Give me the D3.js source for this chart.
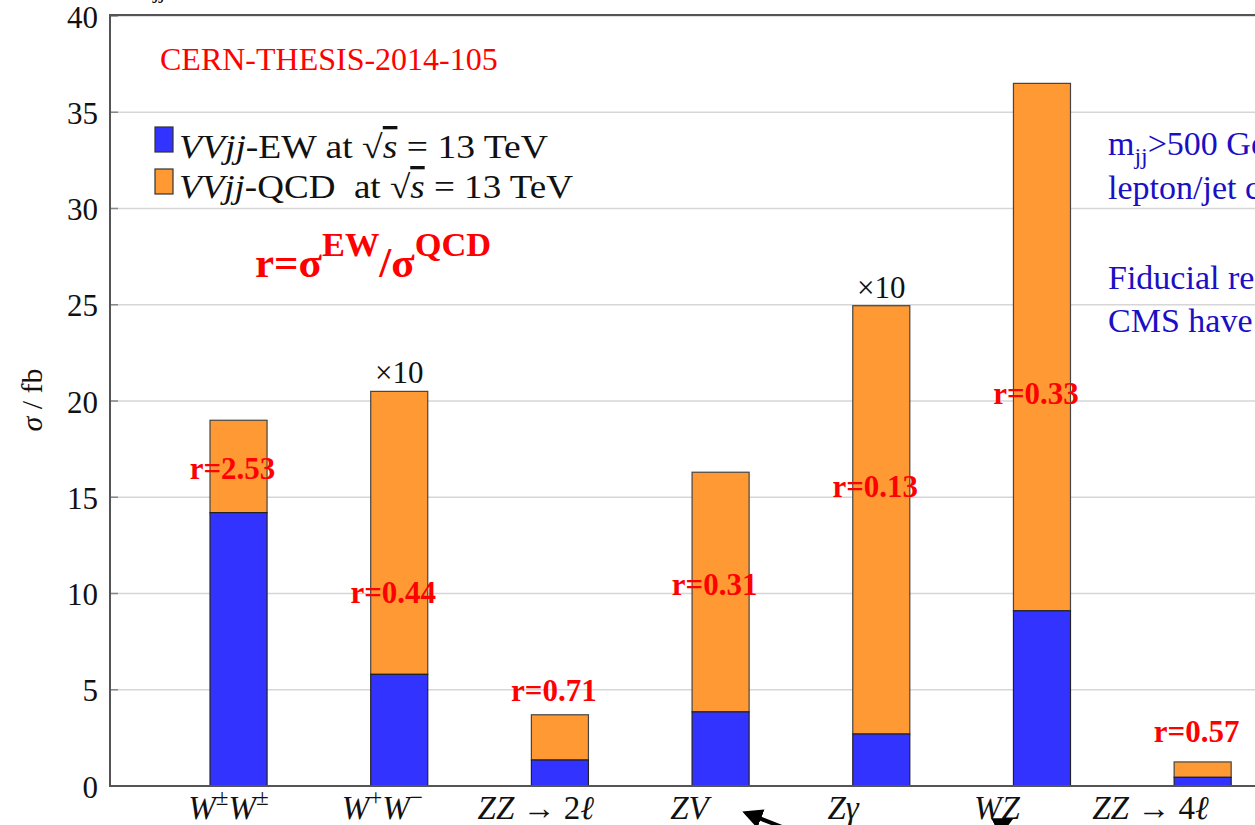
<!DOCTYPE html>
<html>
<head>
<meta charset="utf-8">
<script src="https://cdn.jsdelivr.net/npm/d3@7"></script>
<style>
  html, body { margin: 0; padding: 0; background: #fff; overflow: hidden; }
  svg { display: block; }
  text { white-space: pre; }
</style>
</head>
<body>
<svg id="chart" width="1255" height="825"></svg>
<script>
// ---------------- data ----------------
const categories = ["WpmWpm", "WpWm", "ZZ2l", "ZV", "Zgamma", "WZ", "ZZ4l"];
const ewValues   = [14.2, 5.8, 1.35, 3.85, 2.7, 9.1, 0.45];
const qcdValues  = [4.8, 14.7, 2.35, 12.45, 22.25, 27.4, 0.8];
const ratioLabels = ["r=2.53", "r=0.44", "r=0.71", "r=0.31", "r=0.13", "r=0.33", "r=0.57"];
const ratioLabelY = [16.5, 10.1, 5.0, 10.5, 15.6, 20.4, 2.85];
const scaleNotes  = ["", "×10", "", "", "×10", "", ""];
const yTicks = [0, 5, 10, 15, 20, 25, 30, 35, 40];
// tick label pieces: [text, style]  (i = italic, n = normal, sup = superscript)
const xTickLabels = [
  [["W","i"],["±","sup"],["W","i"],["±","sup"]],
  [["W","i"],["+","sup"],["W","i"],["−","sup"]],
  [["ZZ","i"],[" → 2","n"],["ℓ","i"]],
  [["ZV","i"]],
  [["Zγ","i"]],
  [["WZ","i"]],
  [["ZZ","i"],[" → 4","n"],["ℓ","i"]]
];
const legendLabels = [
  [["VVjj","i"],["-EW at ","n"],["√","n"],["s","o"],[" = 13 TeV","n"]],
  [["VVjj","i"],["-QCD  at ","n"],["√","n"],["s","o"],[" = 13 TeV","n"]]
];
const sideNotes = [
  [["m","n"],["jj","sub"],[">500 GeV","n"]],
  [["lepton/jet cuts","n"]],
  [["Fiducial region","n"]],
  [["CMS have","n"]]
];
const sideNoteY = [155, 199, 289, 332];
const colors = { ew: "#3333ff", qcd: "#ff9933" };

// ---------------- layout ----------------
const svg = d3.select("#chart");
const plot = { left: 110, top: 15, bottom: 786 };
const serif = "'Liberation Serif', 'Times New Roman', serif";

const y = d3.scaleLinear().domain([0, 40]).range([plot.bottom, plot.top + 1]);
const x = d3.scaleBand().domain(categories)
  .range([158.2, 1283]).paddingInner(0.645).paddingOuter(0.3225);
const xLabel = d3.scalePoint().domain(categories).range([228, 1150]);

// gridlines
svg.append("g").selectAll("line").data(yTicks.filter(t => t > 0)).join("line")
  .attr("x1", plot.left).attr("x2", 1255)
  .attr("y1", d => y(d)).attr("y2", d => y(d))
  .attr("stroke", "#d6d6d6").attr("stroke-width", 1.5);

// left axis
const yAxis = d3.axisLeft(y).tickValues(yTicks).tickSize(0).tickPadding(12)
  .tickFormat(d3.format("d"));
const gy = svg.append("g").attr("transform", `translate(${plot.left},0)`).call(yAxis);
gy.select(".domain").remove();
gy.selectAll("text").attr("font-family", serif).attr("font-size", 31)
  .attr("fill", "#111").attr("dy", "0.36em");
// small inward ticks
svg.append("g").selectAll("line").data(yTicks).join("line")
  .attr("x1", plot.left).attr("x2", plot.left + 8)
  .attr("y1", d => y(d)).attr("y2", d => y(d))
  .attr("stroke", "#888").attr("stroke-width", 1.5);

// bars
const bars = svg.append("g");
categories.forEach((c, i) => {
  const bx = x(c), bw = x.bandwidth();
  const total = ewValues[i] + qcdValues[i];
  bars.append("rect").attr("x", bx).attr("width", bw)
    .attr("y", y(total)).attr("height", y(ewValues[i]) - y(total))
    .attr("fill", colors.qcd).attr("stroke", "#444").attr("stroke-width", 1.2);
  bars.append("rect").attr("x", bx).attr("width", bw)
    .attr("y", y(ewValues[i])).attr("height", y(0) - y(ewValues[i]))
    .attr("fill", colors.ew).attr("stroke", "#222").attr("stroke-width", 1.2);
  if (scaleNotes[i]) {
    svg.append("text").attr("x", bx + bw / 2).attr("y", y(total) - 8)
      .attr("text-anchor", "middle").attr("font-family", serif).attr("font-size", 31)
      .attr("fill", "#111").text(scaleNotes[i]);
  }
});

// frame lines
svg.append("line").attr("x1", plot.left).attr("x2", plot.left)
  .attr("y1", plot.top).attr("y2", plot.bottom + 1).attr("stroke", "#555").attr("stroke-width", 2);
svg.append("line").attr("x1", plot.left - 1).attr("x2", 1255)
  .attr("y1", plot.top).attr("y2", plot.top).attr("stroke", "#555").attr("stroke-width", 2);
svg.append("line").attr("x1", plot.left - 1).attr("x2", 1255)
  .attr("y1", plot.bottom).attr("y2", plot.bottom).attr("stroke", "#555").attr("stroke-width", 2);

// rich text helper
function rich(sel, parts, size, supScale = 0.7, supShift = 0.42) {
  let shift = 0;
  parts.forEach(([t, s]) => {
    const ts = sel.append("tspan").text(t);
    let target = 0;
    if (s === "i") ts.attr("font-style", "italic");
    if (s === "o") ts.attr("font-style", "italic").style("text-decoration", "overline");
    if (s === "sup") { target = -size * supShift; ts.attr("font-size", size * supScale); }
    if (s === "sub") { target = size * 0.25; ts.attr("font-size", size * 0.7); }
    if (target !== shift) { ts.attr("dy", target - shift); shift = target; }
  });
}

// x tick labels
const gx = svg.append("g").attr("transform", `translate(0,${plot.bottom})`)
  .call(d3.axisBottom(xLabel).tickSize(0).tickFormat(""));
gx.select(".domain").remove();
gx.selectAll(".tick").each(function (d, i) {
  const t = d3.select(this).append("text").attr("y", 33)
    .attr("text-anchor", "middle").attr("font-family", serif).attr("font-size", 33)
    .attr("fill", "#111");
  rich(t, xTickLabels[i], 33);
});

// y label
svg.append("text").attr("transform", "translate(42,400) rotate(-90)")
  .attr("text-anchor", "middle").attr("font-family", serif).attr("font-size", 30)
  .attr("fill", "#111")
  .call(t => rich(t, [["σ","i"],[" / fb","n"]], 30));

// ratio labels
categories.forEach((c, i) => {
  svg.append("text").attr("x", x(c) + x.bandwidth() / 2 - 6).attr("y", y(ratioLabelY[i]) + 11)
    .attr("text-anchor", "middle").attr("font-family", serif).attr("font-weight", "bold")
    .attr("font-size", 31).attr("fill", "#ff0000").text(ratioLabels[i]);
});

// legend
const legend = svg.append("g");
const legendWidths = [369, 394];
[colors.ew, colors.qcd].forEach((col, i) => {
  legend.append("rect").attr("x", 155).attr("y", 127 + i * 42).attr("width", 18).attr("height", 25)
    .attr("fill", col).attr("stroke", "#333").attr("stroke-width", 1.2);
  const t = legend.append("text").attr("x", 179).attr("y", 158 + i * 40)
    .attr("font-family", serif).attr("font-size", 33).attr("fill", "#111")
    .attr("textLength", legendWidths[i]).attr("lengthAdjust", "spacingAndGlyphs");
  rich(t, legendLabels[i], 33);
});

// annotations
svg.append("text").attr("x", 160).attr("y", 70).attr("font-family", serif)
  .attr("font-size", 32).attr("fill", "#ff0000").text("CERN-THESIS-2014-105");
const rt = svg.append("text").attr("x", 255).attr("y", 277).attr("font-family", serif)
  .attr("font-size", 43).attr("font-weight", "bold").attr("fill", "#ff0000");
rich(rt, [["r=σ","n"],["EW","sup"],["/σ","n"],["QCD","sup"]], 43, 0.8, 0.5);

sideNotes.forEach((parts, i) => {
  const t = svg.append("text").attr("x", 1108).attr("y", sideNoteY[i]).attr("font-family", serif)
    .attr("font-size", 34).attr("fill", "#1a0fc4");
  rich(t, parts, 34);
});

// clipped title fragment at the top
const tt = svg.append("text").attr("x", 128).attr("y", -10).attr("font-family", serif)
  .attr("font-size", 32).attr("fill", "#111");
rich(tt, [["m","n"],["jj","sub"]], 32);

// arrows
const defs = svg.append("defs");
defs.append("marker").attr("id", "ah").attr("viewBox", "0 0 10 10").attr("refX", 8).attr("refY", 5)
  .attr("markerWidth", 5).attr("markerHeight", 5).attr("orient", "auto")
  .append("path").attr("d", "M0,0 L10,5 L0,10 z").attr("fill", "#000");
const arrows = [[[805, 836], [746, 813]], [[960, 845], [1010, 820]]];
arrows.forEach(a => {
  svg.append("path").attr("d", d3.line()(a)).attr("stroke", "#000").attr("stroke-width", 4)
    .attr("fill", "none").attr("marker-end", "url(#ah)");
});
</script>
</body>
</html>
